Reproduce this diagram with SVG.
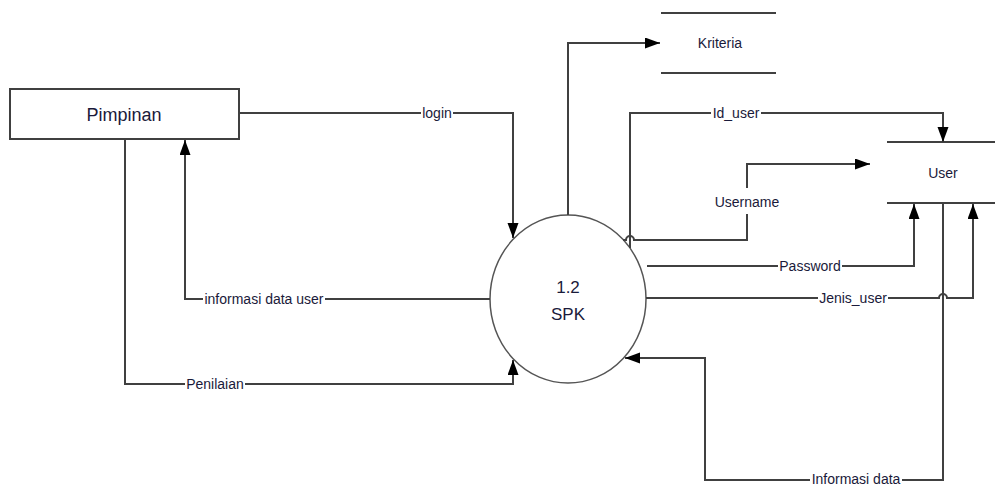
<svg xmlns="http://www.w3.org/2000/svg" width="995" height="487" viewBox="0 0 995 487">
<style>
.ln{fill:none;stroke:#404040;stroke-width:2}
.sh{fill:none;stroke:#555;stroke-width:1.5}
.t{font-family:"Liberation Sans",Arial,sans-serif;fill:#1a1a3a;text-anchor:middle}
.lbl{font-size:14px}
.bg{fill:#fff}
</style>
<defs>
<marker id="ar" markerUnits="userSpaceOnUse" markerWidth="16" markerHeight="12" refX="15" refY="5.5" orient="auto">
<path d="M0,0 L15,5.5 L0,11 z" fill="#000"/>
</marker>
</defs>
<rect width="995" height="487" fill="#fff"/>
<g id="pimpinan">
<rect x="10" y="89" width="229" height="50" fill="#fff" stroke="#404040" stroke-width="2"/>
<text class="t" x="124" y="121" font-size="18">Pimpinan</text>
</g>
<g id="spk">
<ellipse cx="568" cy="299" rx="78" ry="84" fill="#fff" class="sh"/>
<text class="t" x="568" y="293" font-size="17">1.2</text>
<text class="t" x="568" y="320" font-size="17">SPK</text>
</g>
<g id="kriteria">
<line x1="661" y1="13" x2="776" y2="13" class="ln"/>
<line x1="661" y1="73" x2="776" y2="73" class="ln"/>
<text class="t" x="720" y="48" font-size="14">Kriteria</text>
</g>
<g id="user">
<line x1="887" y1="142" x2="995" y2="142" class="ln"/>
<line x1="887" y1="203" x2="995" y2="203" class="ln"/>
<text class="t" x="943" y="178" font-size="14">User</text>
</g>
<g id="connectors">
<path class="ln" d="M239,113 H513 V238" marker-end="url(#ar)"/>
<path class="ln" d="M490,299 H185 V140" marker-end="url(#ar)"/>
<path class="ln" d="M125,139 V384 H513 V360" marker-end="url(#ar)"/>
<path class="ln" d="M568,215 V43 H660" marker-end="url(#ar)"/>
<path class="ln" d="M630,248 V113 H943 V142" marker-end="url(#ar)"/>
<path class="ln" d="M623,240 H626 A4,4 0 0 1 634,240 H747 V164 H870" marker-end="url(#ar)"/>
<path class="ln" d="M647,266 H914 V204" marker-end="url(#ar)"/>
<path class="ln" d="M646,298 H939 A4,4 0 0 1 947,298 H973 V204" marker-end="url(#ar)"/>
<path class="ln" d="M943,203 V480 H705 V358 H625" marker-end="url(#ar)"/>
<rect class="bg" x="421" y="107" width="32" height="12"/>
<rect class="bg" x="203" y="293" width="122" height="12"/>
<rect class="bg" x="185" y="378" width="60" height="12"/>
<rect class="bg" x="711" y="107" width="50" height="12"/>
<rect class="bg" x="713" y="188" width="68" height="26"/>
<rect class="bg" x="778" y="260" width="64" height="12"/>
<rect class="bg" x="818" y="292" width="70" height="12"/>
<rect class="bg" x="810" y="474" width="92" height="12"/>
<text class="t lbl" x="437" y="118">login</text>
<text class="t lbl" x="264" y="304">informasi data user</text>
<text class="t lbl" x="215" y="389">Penilaian</text>
<text class="t lbl" x="736" y="118">Id_user</text>
<text class="t lbl" x="747" y="207">Username</text>
<text class="t lbl" x="810" y="271">Password</text>
<text class="t lbl" x="853" y="303">Jenis_user</text>
<text class="t lbl" x="856" y="484">Informasi data</text>
</g>
</svg>
